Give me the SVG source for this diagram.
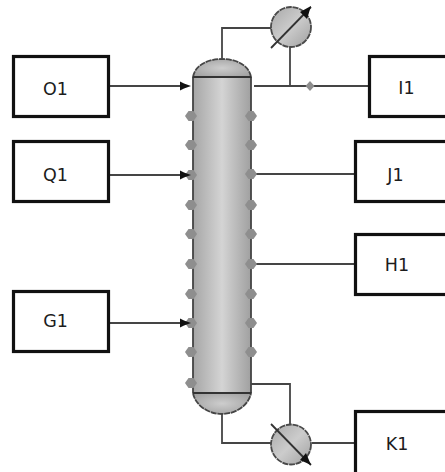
<svg xmlns="http://www.w3.org/2000/svg" width="445" height="472" viewBox="0 0 445 472">
<style>
.box{fill:#fff;stroke:#111;stroke-width:3.200}
.lbl{font-family:"DejaVu Sans","Liberation Sans",sans-serif;font-size:17.500px;fill:#1c1c1c;text-anchor:middle}
.con{fill:none;stroke:#454545;stroke-width:1.800}
.stud{fill:#8e8e8e}
.out{stroke:#4a4a4a;stroke-width:1.800;stroke-dasharray:6 0.800}
</style>
<defs>
<linearGradient id="body" x1="0" x2="1" y1="0" y2="0"><stop offset="0" stop-color="#a6a6a6"/><stop offset="0.5" stop-color="#d4d4d4"/><stop offset="1" stop-color="#a0a0a0"/></linearGradient>
<radialGradient id="cap" cx="0.5" cy="0.5" r="0.6"><stop offset="0" stop-color="#cdcdcd"/><stop offset="1" stop-color="#a2a2a2"/></radialGradient>
<linearGradient id="hx" x1="0" x2="1" y1="0" y2="1"><stop offset="0" stop-color="#a8a8a8"/><stop offset="0.5" stop-color="#cccccc"/><stop offset="1" stop-color="#a0a0a0"/></linearGradient>
<path id="d" class="stud" d="M-6 0L-2.500 -5L2.500 -5L6 0L2.500 5L-2.500 5Z"/>
</defs>
<g id="connectors">
<path class="con" d="M109 86H186M109 175H186M109 323H186"/>
<path class="con" d="M222 58V28H272"/>
<path class="con" d="M254 86H368M290 86V47"/>
<path class="con" d="M251 384H290V425"/>
<path class="con" d="M222 414V443H272"/>
<path class="con" d="M312 443H354M251 174H354M251 264H354"/>
<path class="stud" d="M310 81L314.500 86L310 91L305.500 86Z"/>
</g>
<g id="column">
<rect x="193" y="77" width="58" height="316" fill="url(#body)"/>
<path d="M193 77V393M251 77V393" stroke="#444" stroke-width="1.800" fill="none"/>
<path d="M193 77C195 65 208 59 222 59C236 59 249 65 251 77Z" fill="url(#cap)" stroke="#454545" stroke-width="1.800" stroke-dasharray="6 0.800"/>
<path d="M193 393C195 405 208 414 222 414C236 414 249 405 251 393Z" fill="url(#cap)" stroke="#454545" stroke-width="1.800" stroke-dasharray="6 0.800"/>
<path d="M193 77H251M193 393H251" stroke="#333" stroke-width="2" fill="none"/>
<g id="studs">
<use href="#d" x="191" y="116"/><use href="#d" x="191" y="145"/><use href="#d" x="191" y="175"/><use href="#d" x="191" y="205"/><use href="#d" x="191" y="234"/><use href="#d" x="191" y="264"/><use href="#d" x="191" y="294"/><use href="#d" x="191" y="323"/><use href="#d" x="191" y="352"/><use href="#d" x="191" y="383"/>
<use href="#d" x="251" y="116"/><use href="#d" x="251" y="145"/><use href="#d" x="251" y="174"/><use href="#d" x="251" y="205"/><use href="#d" x="251" y="234"/><use href="#d" x="251" y="264"/><use href="#d" x="251" y="294"/><use href="#d" x="251" y="323"/><use href="#d" x="251" y="352"/>
</g>
<path fill="#111" d="M180 81.500L184 83.500L191 86L184 88.500L180 90.500ZM180 170.500L184 172.500L191 175L184 177.500L180 179.500ZM180 318.500L184 320.500L191 323L184 325.500L180 327.500Z"/>
</g>
<g id="condenser">
<circle cx="291" cy="27" r="20" fill="url(#hx)" class="out"/>
<path d="M271 48L311 7" stroke="#333" stroke-width="1.800"/>
<path d="M300 12L311 6L307 19Z" fill="#111"/>
</g>
<g id="reboiler">
<circle cx="291" cy="444.500" r="20" fill="url(#hx)" class="out"/>
<path d="M271 424L311 465" stroke="#333" stroke-width="1.800"/>
<path d="M300 460L311 465L306 453Z" fill="#111"/>
</g>
<g id="O1"><rect class="box" x="13.500" y="56.500" width="95" height="60"/><text class="lbl" x="55.500" y="94.500">O1</text></g>
<g id="Q1"><rect class="box" x="13.500" y="141.500" width="95" height="60"/><text class="lbl" x="55.500" y="180.500">Q1</text></g>
<g id="G1"><rect class="box" x="13.500" y="291.500" width="95" height="60"/><text class="lbl" x="55.500" y="327">G1</text></g>
<g id="I1"><rect class="box" x="369.500" y="56.500" width="80" height="60"/><text class="lbl" x="406.500" y="93.500">I1</text></g>
<g id="J1"><rect class="box" x="355.500" y="141.500" width="95" height="60"/><text class="lbl" x="395.500" y="180.500">J1</text></g>
<g id="H1"><rect class="box" x="355.500" y="234.500" width="95" height="60"/><text class="lbl" x="397" y="271">H1</text></g>
<g id="K1"><rect class="box" x="355.500" y="411.500" width="95" height="65"/><text class="lbl" x="397" y="450">K1</text></g>
</svg>
